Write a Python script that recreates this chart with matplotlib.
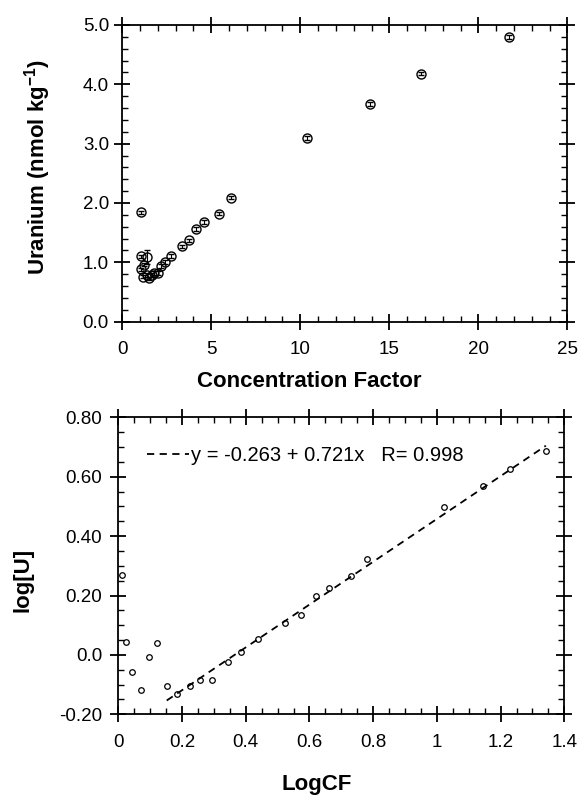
import numpy as np
import matplotlib
matplotlib.use("Agg")
import matplotlib.pyplot as plt
from matplotlib.ticker import MultipleLocator, FixedLocator, FixedFormatter

plt.rcParams['font.family'] = ['Liberation Sans', 'DejaVu Sans']

# top panel: uranium vs concentration factor
cf = [1.05, 1.05, 1.07, 1.16, 1.25, 1.40, 1.42, 1.52, 1.70, 1.80, 2.00, 2.19,
      2.43, 2.73, 3.35, 3.74, 4.12, 4.58, 5.41, 6.10, 10.37, 13.90, 16.76, 21.74]
uranium = [1.84, 1.10, 0.88, 0.76, 0.96, 1.09, 0.79, 0.73, 0.79, 0.82, 0.82, 0.94,
           1.01, 1.11, 1.27, 1.37, 1.56, 1.68, 1.82, 2.09, 3.10, 3.67, 4.18, 4.80]
u_err = [0.03, 0.03, 0.03, 0.03, 0.03, 0.11, 0.03, 0.03, 0.03, 0.03, 0.03, 0.03,
         0.03, 0.03, 0.03, 0.03, 0.03, 0.03, 0.03, 0.03, 0.03, 0.03, 0.03, 0.03]

# bottom panel: log-log values
log_cf = [0.013, 0.023, 0.044, 0.071, 0.096, 0.122, 0.152, 0.183, 0.224, 0.255,
          0.294, 0.343, 0.384, 0.440, 0.524, 0.575, 0.619, 0.662, 0.729, 0.782,
          1.022, 1.145, 1.228, 1.342]
log_u = [0.268, 0.043, -0.058, -0.117, -0.008, 0.040, -0.104, -0.131, -0.104, -0.084,
         -0.084, -0.025, 0.011, 0.052, 0.107, 0.135, 0.198, 0.226, 0.265, 0.322,
         0.497, 0.570, 0.626, 0.687]

# regression
intercept, slope, r_val = -0.263, 0.721, 0.998
fit_range = [0.152, 1.342]

fig = plt.figure(figsize=(5.79, 7.96), dpi=100)
ax1 = fig.add_axes([0.2110, 0.5959, 0.7690, 0.3727])
ax2 = fig.add_axes([0.2043, 0.1026, 0.7704, 0.3731])


def style_axes(ax, xpad, ypad):
    for s in ax.spines.values():
        s.set_linewidth(1.3)
    ax.tick_params(which='major', direction='inout', length=11, width=1.3,
                   top=True, right=True, labelsize=13.5)
    ax.tick_params(which='minor', direction='in', length=4, width=1.0,
                   top=True, right=True)
    ax.tick_params(axis='x', which='major', pad=xpad)
    ax.tick_params(axis='y', which='major', pad=ypad)


# --- top ---
ax1.errorbar(cf, uranium, yerr=u_err, fmt='o', ms=6.5, mfc='none', mec='black',
             mew=1.0, ecolor='black', elinewidth=0.8, capsize=2.5, capthick=0.8)
ax1.set_xlim(0, 25)
ax1.set_ylim(0, 5)
ax1.xaxis.set_major_locator(MultipleLocator(5))
ax1.xaxis.set_minor_locator(MultipleLocator(1))
ax1.yaxis.set_major_locator(MultipleLocator(1))
ax1.yaxis.set_minor_locator(MultipleLocator(0.2))
ax1.yaxis.set_major_formatter(plt.FormatStrFormatter('%.1f'))
style_axes(ax1, 8.5, 4)
ax1.set_xlabel('Concentration Factor', fontsize=16, fontweight='bold')
ax1.xaxis.set_label_coords(0.42, -0.165)
ax1.set_ylabel('Uranium (nmol kg$^{\\mathregular{-1}}$)', fontsize=16, fontweight='bold')
ax1.yaxis.set_label_coords(-0.156, 0.52)

# --- bottom ---
ax2.plot(log_cf, log_u, 'o', ms=4, mfc='none', mec='black', mew=0.9)
xf = np.array(fit_range)
ax2.plot(xf, intercept + slope * xf, color='black', lw=1.3, ls=(0, (4, 3)),
         label=f'y = {intercept} + {slope}x   R= {r_val}')
ax2.set_xlim(0, 1.4)
ax2.set_ylim(-0.2, 0.8)
ax2.xaxis.set_major_locator(MultipleLocator(0.2))
ax2.xaxis.set_minor_locator(MultipleLocator(0.05))
ax2.yaxis.set_minor_locator(MultipleLocator(0.05))
yt = [-0.2, 0.0, 0.2, 0.4, 0.6, 0.8]
ax2.yaxis.set_major_locator(FixedLocator(yt))
ax2.yaxis.set_major_formatter(FixedFormatter(['-0.20', '0.0', '0.20', '0.40', '0.60', '0.80']))
ax2.xaxis.set_major_formatter(plt.FuncFormatter(lambda v, p: f'{v:g}'))
style_axes(ax2, 8.5, 6)
ax2.legend(loc='center left', bbox_to_anchor=(0.023, 0.873), frameon=False,
           handlelength=2.1, handletextpad=0.1, fontsize=14.5)
ax2.set_xlabel('LogCF', fontsize=16, fontweight='bold')
ax2.xaxis.set_label_coords(0.445, -0.2)
ax2.set_ylabel('log[U]', fontsize=16, fontweight='bold')
ax2.yaxis.set_label_coords(-0.19, 0.452)

fig.savefig('out.png', dpi=100)
